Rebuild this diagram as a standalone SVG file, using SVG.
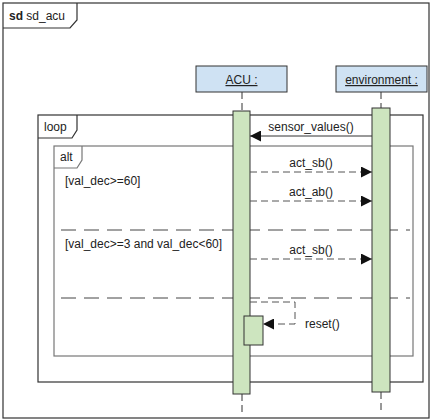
<svg xmlns="http://www.w3.org/2000/svg" width="432" height="420" viewBox="0 0 432 420">
  <style>
    text { font-family: "Liberation Sans", Arial, sans-serif; font-size: 12px; fill: #222; }
    .head { fill: #cfe2f3; stroke: #333; stroke-width: 1; }
    .act { fill: #cde5bf; stroke: #333; stroke-width: 1; }
    .life { stroke: #333; stroke-width: 1; stroke-dasharray: 7 4; fill: none; }
    .frame { fill: none; stroke: #333; stroke-width: 1.2; }
    .alt { fill: none; stroke: #777; stroke-width: 1.2; }
    .sep { stroke: #444; stroke-width: 1; stroke-dasharray: 15 8; fill: none; }
    .msg { stroke: #333; stroke-width: 1; fill: none; }
    .reply { stroke: #555; stroke-width: 1; stroke-dasharray: 7 4; fill: none; }
  </style>
  <defs>
    <marker id="arrow" viewBox="0 0 10 10" refX="10" refY="5" markerWidth="12" markerHeight="11" markerUnits="userSpaceOnUse" orient="auto">
      <path d="M0,0 L10,5 L0,10 Z" fill="#111"/>
    </marker>
  </defs>
  <rect width="432" height="420" fill="#fff"/>

  <!-- sequence diagram frame -->
  <g id="frame-sd">
    <rect x="3" y="3" width="426" height="415" class="frame" stroke="#222"/>
    <path d="M3,28 H70 L77,20 V3" class="frame"/>
    <text x="9" y="20"><tspan font-weight="bold">sd</tspan> sd_acu</text>
  </g>

  <!-- loop fragment -->
  <g id="frame-loop">
    <rect x="38" y="115" width="385" height="267" class="frame"/>
    <path d="M38,138 H72 L77,130 V115" class="frame"/>
    <text x="44" y="131">loop</text>
  </g>

  <!-- alt fragment with its operands -->
  <g id="frame-alt">
    <rect x="54" y="146" width="359" height="210" class="alt"/>
    <path d="M54,168 H77 L82,160 V146" class="alt"/>
    <text x="60" y="161">alt</text>
    <text x="65" y="185">[val_dec&gt;=60]</text>
    <line x1="61" y1="230" x2="410" y2="230" class="sep"/>
    <text x="65" y="248">[val_dec&gt;=3 and val_dec&lt;60]</text>
    <line x1="61" y1="298" x2="410" y2="298" class="sep"/>
  </g>

  <!-- lifeline: ACU -->
  <g id="acu">
    <rect x="196" y="66" width="91" height="26" class="head"/>
    <text x="241.5" y="84" text-anchor="middle" text-decoration="underline">ACU  :</text>
    <line x1="242" y1="92" x2="242" y2="111" class="life"/>
    <line x1="242" y1="394" x2="242" y2="412" class="life"/>
    <rect x="233" y="111" width="17" height="283" class="act"/>
    <rect x="244" y="316" width="19" height="29" class="act"/>
  </g>

  <!-- lifeline: environment -->
  <g id="environment">
    <rect x="336" y="66" width="91" height="26" class="head"/>
    <text x="381.5" y="84" text-anchor="middle" text-decoration="underline">environment  :</text>
    <line x1="381" y1="92" x2="381" y2="108" class="life"/>
    <line x1="381" y1="392" x2="381" y2="410" class="life"/>
    <rect x="372" y="108" width="18" height="284" class="act"/>
  </g>

  <!-- messages -->
  <g id="connectors">
    <line x1="372" y1="136" x2="250" y2="136" class="msg" marker-end="url(#arrow)"/>
    <text x="311" y="131" text-anchor="middle">sensor_values()</text>

    <line x1="250" y1="172" x2="372" y2="172" class="reply" marker-end="url(#arrow)"/>
    <text x="311" y="167" text-anchor="middle">act_sb()</text>

    <line x1="250" y1="201" x2="372" y2="201" class="reply" marker-end="url(#arrow)"/>
    <text x="311" y="196" text-anchor="middle">act_ab()</text>

    <line x1="250" y1="259" x2="372" y2="259" class="reply" marker-end="url(#arrow)"/>
    <text x="311" y="254" text-anchor="middle">act_sb()</text>

    <path d="M250,302 H295 V324 H263" class="reply" marker-end="url(#arrow)"/>
    <text x="305" y="328">reset()</text>
  </g>
</svg>
